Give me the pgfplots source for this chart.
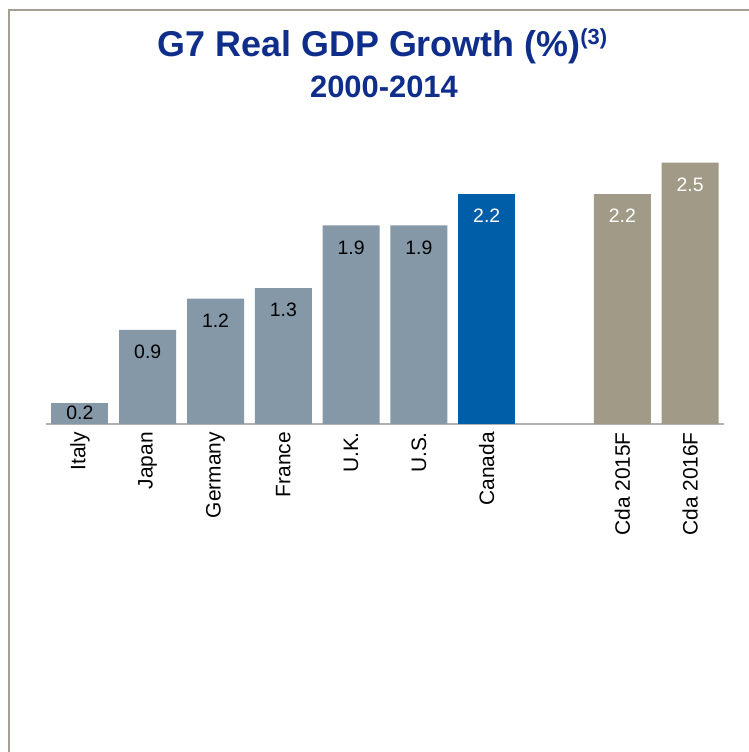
\documentclass[border=0pt]{standalone}
\usepackage{fontspec}
\setmainfont{Liberation Sans}
\usepackage{pgfplots}
\pgfplotsset{compat=1.18}
\definecolor{titleblue}{HTML}{0F2D8A}
\definecolor{framegray}{HTML}{A59F92}
\definecolor{basegray}{HTML}{B0B0B0}
\definecolor{bargray}{HTML}{8598A8}
\definecolor{canblue}{HTML}{005EA8}
\definecolor{cdagray}{HTML}{A09A86}
\begin{document}
\begin{tikzpicture}[x=1bp,y=1bp]
\useasboundingbox (0,0) rectangle (749,752);
\fill[white] (0,0) rectangle (749,752);
\draw[framegray, line width=2bp] (8.5,0) -- (8.5,741.5) -- (749,741.5);
\node[font=\fontsize{36}{40}\selectfont\bfseries, text=titleblue, anchor=base, inner sep=0pt] at (382.5,695) {G7 Real GDP Growth (\%)\raisebox{12bp}{\fontsize{22}{24}\selectfont(3)}};
\node[font=\fontsize{31}{36}\selectfont\bfseries, text=titleblue, anchor=base, inner sep=0pt] at (384,654) {2000-2014};
\begin{axis}[
  at={(46bp,328bp)}, anchor=south west,
  scale only axis, width=678bp, height=313.5bp,
  xmin=-0.5, xmax=9.5, ymin=0, ymax=3,
  ybar, bar width=57bp,
  axis y line=none,
  axis x line*=bottom,
  x axis line style={draw=basegray, line width=1.5bp, -},
  xtick={0,1,2,3,4,5,6,8,9},
  xticklabels={Italy,Japan,Germany,France,U.K.,U.S.,Canada,Cda 2015F,Cda 2016F},
  major tick length=0pt,
  xticklabel style={rotate=90, anchor=east, inner sep=0pt, font=\fontsize{21}{24}\selectfont},
  xticklabel shift=8bp,
  clip=false,
  nodes near coords={\pgfmathprintnumber[fixed,fixed zerofill,precision=1,assume math mode=true]{\pgfplotspointmeta}},
  nodes near coords align=below,
  every node near coord/.append style={font=\fontsize{19.5}{22}\selectfont, anchor=north, inner sep=0pt},
]
\addplot[fill=bargray, draw=none, bar shift=0pt, every node near coord/.append style={yshift=-3bp, text=black}] coordinates {(0,0.2)};
\addplot[fill=bargray, draw=none, bar shift=0pt, every node near coord/.append style={yshift=-15bp, text=black}] coordinates {(1,0.9) (2,1.2) (3,1.3) (4,1.9) (5,1.9)};
\addplot[fill=canblue, draw=none, bar shift=0pt, every node near coord/.append style={yshift=-15bp, text=white}] coordinates {(6,2.2)};
\addplot[fill=cdagray, draw=none, bar shift=0pt, every node near coord/.append style={yshift=-15bp, text=white}] coordinates {(8,2.2) (9,2.5)};
\end{axis}
\end{tikzpicture}
\end{document}
